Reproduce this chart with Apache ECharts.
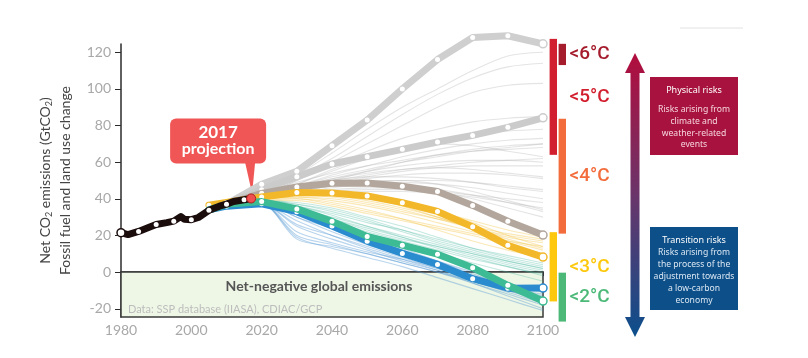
<!DOCTYPE html>
<html>
<head>
<meta charset="utf-8">
<title>Net CO2 emissions scenarios</title>
<script src="https://cdn.jsdelivr.net/npm/echarts@6/dist/echarts.min.js"></script>
<style>
  html, body { margin: 0; padding: 0; background: #fff; }
  #chart { width: 808px; height: 358px; }
</style>
</head>
<body>
<div id="chart"></div>
<script>
// historical emissions (GtCO2)
var histYears = [1980, 1982, 1985, 1988, 1990, 1993, 1995, 1997, 1998, 2000, 2002, 2005, 2008, 2010, 2012, 2015, 2017];
var histValues = [21.5, 20.5, 22.2, 24.5, 26, 27, 27.8, 30.3, 28.8, 28.6, 29.8, 33.7, 36, 37.1, 38.5, 39.5, 40.2];

// highlighted scenarios
var scenYears = [2005, 2010, 2020, 2030, 2040, 2050, 2060, 2070, 2080, 2090, 2100];
var topGray = [34, 37, 48, 55, 69, 83, 100, 116, 128, 129, 124.6];
var midGray = [34, 37, 45, 52, 59, 63, 67, 71, 74.6, 79, 84.2];
var brown = [34, 37, 43, 46.5, 48.5, 48.6, 46.9, 44, 36.4, 27.8, 20.2];
var yellow = [36.5, 38, 41, 43.5, 43.2, 41.6, 37.9, 33.1, 24.7, 14.6, 8.2];
var green = [34, 37, 38.5, 34.5, 27.7, 19.5, 14.7, 9.8, 2.4, -7.2, -15.8];
var blue = [34, 36, 37.3, 33, 25.1, 16.9, 10.2, 4.2, -3.6, -8.8, -8.7];

// thin scenario lines
var thinYears = [2010, 2020, 2030, 2040, 2050, 2060, 2070, 2080, 2090, 2100];
var grayThin = [
  [37, 44, 52, 62, 74, 86, 97, 106, 112, 114],
  [37, 43, 50, 60, 70, 80, 90, 98, 102, 103],
  [37, 44, 53, 65, 78, 90, 100, 110, 118, 120],
  [37, 42, 48, 55, 62, 68, 72, 75, 77, 78],
  [37, 42, 47, 53, 58, 63, 67, 70, 72, 73],
  [37, 43, 49, 54, 58, 61, 64, 66, 67, 68],
  [37, 42, 47, 52, 56, 60, 63, 66, 68, 70],
  [37, 42, 46, 50, 53, 56, 58, 60, 61, 62],
  [37, 41, 45, 49, 52, 55, 57, 58, 58, 58],
  [37, 42, 47, 51, 54, 56, 57, 56, 54, 52],
  [37, 41, 45, 48, 51, 53, 54, 54, 53, 51],
  [37, 41, 46, 50, 52, 52, 51, 49, 46, 44],
  [37, 41, 44, 47, 49, 50, 50, 49, 47, 45],
  [37, 40, 43, 46, 48, 49, 48, 46, 43, 40],
  [37, 41, 45, 48, 50, 50, 48, 44, 39, 34],
  [37, 40, 43, 45, 46, 46, 45, 42, 38, 33],
  [37, 40, 42, 44, 45, 45, 44, 42, 40, 38],
  [37, 41, 46, 51, 55, 58, 60, 61, 61, 60],
  [37, 42, 48, 56, 63, 68, 70, 69, 66, 63],
  [37, 40, 44, 47, 48, 47, 44, 40, 35, 30],
  [37, 41, 45, 50, 55, 60, 64, 67, 69, 70],
  [37, 40, 42, 43, 44, 44, 43, 41, 38, 35],
  [37, 42, 50, 58, 66, 73, 78, 82, 84, 85]
];
var yellowThin = [
  [37, 41, 43, 42, 39, 35, 30, 24, 18, 13],
  [37, 40, 42, 41, 38, 34, 29, 24, 20, 17],
  [37, 40, 41, 39, 36, 32, 27, 22, 17, 12],
  [37, 41, 44, 44, 42, 38, 33, 27, 20, 14],
  [37, 40, 40, 37, 33, 29, 25, 21, 17, 14],
  [37, 40, 42, 42, 40, 37, 33, 28, 23, 19],
  [37, 39, 39, 36, 32, 28, 24, 20, 15, 10],
  [37, 40, 43, 43, 41, 36, 30, 24, 19, 16],
  [37, 40, 41, 40, 37, 33, 29, 25, 21, 18],
  [37, 39, 40, 38, 34, 29, 23, 17, 12, 8]
];
var tealThin = [
  [37, 39, 36, 31, 25, 19, 13, 8, 3, -1],
  [37, 38, 35, 30, 25, 20, 15, 10, 5, 1],
  [37, 39, 37, 33, 28, 22, 16, 11, 6, 2],
  [37, 38, 34, 28, 22, 17, 12, 7, 3, -2],
  [37, 39, 38, 35, 30, 25, 19, 13, 8, 4],
  [37, 38, 33, 26, 20, 15, 10, 5, 0, -5],
  [37, 39, 36, 32, 27, 23, 18, 13, 9, 5],
  [37, 38, 35, 29, 23, 18, 14, 9, 4, 0],
  [37, 39, 37, 34, 29, 23, 17, 12, 7, 3],
  [37, 38, 34, 29, 24, 19, 14, 10, 6, 2]
];
var blueThin = [
  [37, 37, 18, 14, 10, 5, 0, -5, -10, -14],
  [37, 37, 20, 15, 10, 5, 0, -6, -12, -18],
  [37, 37, 25, 18, 12, 6, 1, -5, -11, -17],
  [37, 38, 30, 22, 15, 9, 3, -4, -10, -15],
  [37, 37, 28, 20, 13, 7, 1, -6, -13, -20],
  [37, 38, 32, 25, 18, 11, 4, -3, -9, -12],
  [37, 37, 22, 16, 11, 7, 2, -4, -9, -13],
  [37, 38, 30, 24, 18, 12, 6, 0, -6, -11],
  [37, 37, 26, 20, 14, 8, 2, -4, -10, -16],
  [37, 38, 34, 27, 20, 13, 6, -1, -7, -10],
  [37, 37, 19, 13, 8, 3, -3, -9, -15, -21],
  [37, 38, 33, 26, 19, 12, 5, -2, -8, -14]
];

// warming ranges at 2100
var tempLabels = ['<6°C', '<5°C', '<4°C', '<3°C', '<2°C'];
var tempLow = [113, 64, 21, -16, -27];
var tempHigh = [124.6, 127.3, 83.7, 21.8, -0.3];
var tempColors = ['#a51d2d', '#d21f2f', '#f26c3c', '#fdc80e', '#4db979'];

var yTicks = [-20, 0, 20, 40, 60, 80, 100, 120];

var myChart = echarts.init(document.getElementById('chart'));

function thinSeries(rows, color) {
  return rows.map(function (row) {
    return {
      type: 'line',
      data: thinYears.map(function (y, i) { return [y, row[i]]; }),
      symbol: 'none',
      smooth: 0.3,
      silent: true,
      z: 2,
      lineStyle: { width: 1.1, color: color }
    };
  });
}

function thickSeries(vals, color, z) {
  return {
    type: 'line',
    z: z,
    silent: true,
    clip: false,
    data: scenYears.map(function (y, i) {
      if (i === scenYears.length - 1) {
        return { value: [y, vals[i]], symbolSize: 8, itemStyle: { color: '#fff', borderColor: color, borderWidth: 1.5 } };
      }
      return [y, vals[i]];
    }),
    symbol: 'circle',
    symbolSize: 5,
    showSymbol: true,
    itemStyle: { color: '#fff', borderWidth: 0 },
    lineStyle: { width: 7, color: color, cap: 'round', join: 'round' }
  };
}

var series = [];
// net-negative box
series.push({
  type: 'line',
  data: [],
  z: 1,
  silent: true,
  markArea: {
    silent: true,
    itemStyle: { color: '#eef7e6', borderColor: '#3a3a3a', borderWidth: 1.5 },
    label: {
      show: true,
      position: 'inside',
      offset: [-13, -8],
      formatter: 'Net-negative global emissions',
      fontFamily: 'Lato',
      fontWeight: 'bold',
      fontSize: 14,
      color: '#555'
    },
    data: [[{ coord: [1980, 0] }, { coord: [2100, -24.5] }]]
  }
});
series = series.concat(thinSeries(grayThin, 'rgba(185,185,185,0.38)'));
series = series.concat(thinSeries(yellowThin, 'rgba(240,190,50,0.35)'));
series = series.concat(thinSeries(tealThin, 'rgba(70,185,160,0.32)'));
series = series.concat(thinSeries(blueThin, 'rgba(80,150,210,0.4)'));
series.push(thickSeries(topGray, '#cfcfcf', 5));
series.push(thickSeries(midGray, '#cbcbcb', 5));
series.push(thickSeries(brown, '#b3a79d', 6));
series.push(thickSeries(yellow, '#f2b82a', 7));
series.push(thickSeries(blue, '#2a8bcf', 8));
series.push(thickSeries(green, '#3dbb94', 9));

// historical line
series.push({
  type: 'line',
  z: 12,
  silent: true,
  lineStyle: { width: 7, color: '#1c0d0d', cap: 'round', join: 'round' },
  itemStyle: { color: '#fff', borderWidth: 0 },
  symbol: 'circle',
  symbolSize: 5,
  showSymbol: true,
  data: histYears.map(function (y, i) {
    if (i === 0) {
      return { value: [y, histValues[i]], symbolSize: 8, itemStyle: { color: '#fff', borderColor: '#1c0d0d', borderWidth: 1.5 } };
    }
    if (i === histYears.length - 1) {
      return { value: [y, histValues[i]], symbolSize: 9, itemStyle: { color: '#ef4f4f', borderColor: '#b02020', borderWidth: 1 } };
    }
    if (y % 5 === 0) return [y, histValues[i]];
    return { value: [y, histValues[i]], symbol: 'none' };
  })
});

// warming bars + labels
series.push({
  type: 'custom',
  clip: false,
  silent: true,
  z: 15,
  data: tempLabels.map(function (t, i) { return [2100, tempLow[i], tempHigh[i]]; }),
  renderItem: function (params, api) {
    var idx = params.dataIndex;
    var top = api.coord([api.value(0), api.value(2)]);
    var bot = api.coord([api.value(0), api.value(1)]);
    var col = idx % 2 === 0 ? 1 : 0;
    var x0 = top[0] + 6.6 + col * 9;
    return {
      type: 'group',
      children: [
        { type: 'rect', shape: { x: x0, y: top[1], width: 7.4, height: bot[1] - top[1] }, style: { fill: tempColors[idx] } },
        {
          type: 'text',
          style: {
            text: tempLabels[idx],
            x: top[0] + 26.6,
            y: (top[1] + bot[1]) / 2,
            fill: tempColors[idx],
            fontSize: 19,
            fontWeight: 500,
            fontFamily: 'Roboto',
            verticalAlign: 'middle'
          }
        }
      ]
    };
  }
});

var option = {
  animation: false,
  backgroundColor: '#fff',
  grid: { left: 121, right: 265, top: 44, bottom: 41 },
  xAxis: {
    type: 'value',
    min: 1980,
    max: 2100,
    interval: 20,
    splitLine: { show: false },
    axisLine: { lineStyle: { color: '#2b2b2b', width: 1.5 } },
    axisTick: { show: true, length: 4, lineStyle: { color: '#2b2b2b' } },
    axisLabel: {
      color: '#a8a8a8', fontSize: 14, fontFamily: 'Lato', margin: 6,
      formatter: function (v) { return String(v); }
    }
  },
  yAxis: {
    type: 'value',
    min: -24.5,
    max: 124.5,
    splitLine: { show: false },
    axisLine: { show: true, lineStyle: { color: '#2b2b2b', width: 1.5 } },
    axisTick: { show: true, length: 6, customValues: yTicks, lineStyle: { color: '#2b2b2b' } },
    axisLabel: { color: '#a8a8a8', fontSize: 14, fontFamily: 'Lato', margin: 10, customValues: yTicks },
    name: '{a|Net CO}{s|2}{a| emissions (GtCO}{s|2}{a|)}\n{a|Fossil fuel and land use change}',
    nameLocation: 'middle',
    nameRotate: 90,
    nameGap: 34,
    nameTextStyle: {
      lineHeight: 20,
      rich: {
        a: { fontSize: 14, color: '#444', fontFamily: 'Lato', lineHeight: 20 },
        s: { fontSize: 9, color: '#444', fontFamily: 'Lato', lineHeight: 20, padding: [7, 0, 0, 0] }
      }
    }
  },
  series: series
};

myChart.setOption(option);

// annotations anchored to the 2017 point
var p = myChart.convertToPixel({ gridIndex: 0 }, [histYears[histYears.length - 1], histValues[histValues.length - 1]]);
var boxBody = 'Risks arising from\nclimate and\nweather-related\nevents';
var boxBody2 = 'Risks arising from\nthe process of the\nadjustment towards\na low-carbon\neconomy';

myChart.setOption({
  graphic: [
    {
      id: 'callout', type: 'group', z: 100,
      children: [
        { type: 'rect', shape: { x: p[0] - 81, y: p[1] - 80, width: 96, height: 45, r: 6 }, style: { fill: '#f05656' } },
        { type: 'polygon', shape: { points: [[p[0] - 6, p[1] - 36], [p[0] + 4, p[1] - 36], [p[0] + 1, p[1] - 5]] }, style: { fill: '#f05656' } },
        { type: 'text', style: { text: '2017', x: p[0] - 33, y: p[1] - 66, fill: '#fff', fontSize: 17, fontWeight: 'bold', fontFamily: 'Lato', align: 'center', verticalAlign: 'middle' } },
        { type: 'text', style: { text: 'projection', x: p[0] - 33, y: p[1] - 50, fill: '#fff', fontSize: 16, fontWeight: 'bold', fontFamily: 'Lato', align: 'center', verticalAlign: 'middle' } }
      ]
    },
    {
      id: 'source', type: 'text', left: 128, top: 304, z: 50,
      style: { text: 'Data: SSP database (IIASA), CDIAC/GCP', fill: '#bdbdbd', fontSize: 11, fontFamily: 'Lato' }
    },
    {
      id: 'topline', type: 'line', z: 50,
      shape: { x1: 680, y1: 28, x2: 743, y2: 28 },
      style: { stroke: '#e2e2e2', lineWidth: 1 }
    },
    {
      id: 'arrow', type: 'polygon', z: 50,
      shape: {
        points: [[635, 53], [645, 73], [639.5, 73], [639.5, 317], [645, 317], [635, 337],
                 [625, 317], [630.5, 317], [630.5, 73], [625, 73]]
      },
      style: {
        fill: new echarts.graphic.LinearGradient(0, 0, 0, 1, [
          { offset: 0, color: '#b10d3d' },
          { offset: 0.5, color: '#6a356a' },
          { offset: 1, color: '#0b4f8c' }
        ])
      }
    },
    {
      id: 'physBox', type: 'group', z: 50,
      children: [
        { type: 'rect', shape: { x: 650, y: 77, width: 88, height: 78 }, style: { fill: '#a8123f' } },
        { type: 'text', style: { text: 'Physical risks', x: 694, y: 90, fill: '#fff', fontSize: 9, fontFamily: 'Noto Sans', align: 'center', verticalAlign: 'middle' } },
        { type: 'text', style: { text: boxBody, x: 694, y: 104, fill: '#f6d6de', fontSize: 8.6, lineHeight: 11.7, fontFamily: 'Noto Sans', align: 'center', verticalAlign: 'top' } }
      ]
    },
    {
      id: 'transBox', type: 'group', z: 50,
      children: [
        { type: 'rect', shape: { x: 650, y: 227, width: 88, height: 83 }, style: { fill: '#0c4f89' } },
        { type: 'text', style: { text: 'Transition risks', x: 694, y: 240, fill: '#fff', fontSize: 9, fontFamily: 'Noto Sans', align: 'center', verticalAlign: 'middle' } },
        { type: 'text', style: { text: boxBody2, x: 694, y: 247, fill: '#dbe7f3', fontSize: 8.6, lineHeight: 11.8, fontFamily: 'Noto Sans', align: 'center', verticalAlign: 'top' } }
      ]
    }
  ]
});
</script>
</body>
</html>
